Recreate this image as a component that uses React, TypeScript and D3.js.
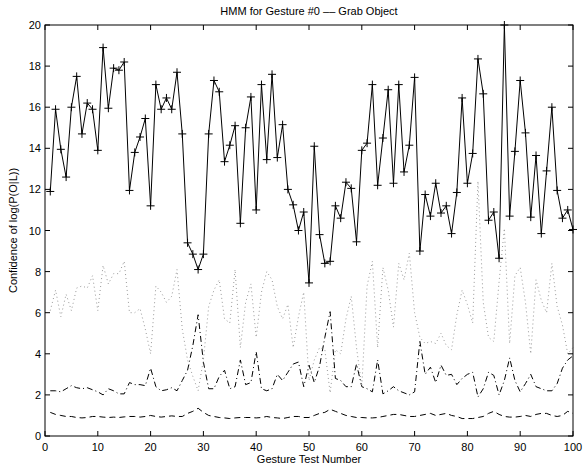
import * as d3 from "d3";

// gesture test numbers 1..100
const testNumbers = d3.range(1, 101);

// solid line with + markers
const confidence = [
  11.9, 15.9, 13.95, 12.6, 16.0, 17.5, 14.7, 16.2, 15.9, 13.9,
  18.9, 15.95, 17.9, 17.8, 18.2, 11.95, 13.8, 14.55, 15.45, 11.2,
  17.1, 15.9, 16.45, 15.9, 17.7, 14.7, 9.4, 8.85, 8.1, 8.85,
  14.7, 17.3, 16.75, 13.35, 14.15, 15.1, 10.35, 15.0, 16.5, 11.0,
  17.1, 13.45, 17.6, 13.55, 15.15, 12.0, 11.25, 10.0, 10.9, 7.45,
  14.1, 9.8, 8.4, 8.5, 11.2, 10.6, 12.35, 12.05, 9.45, 13.9,
  14.25, 17.1, 12.2, 14.5, 16.85, 12.3, 17.1, 12.85, 14.15, 17.45,
  9.0, 11.75, 10.7, 12.3, 10.85, 11.2, 9.85, 11.85, 16.45, 12.3,
  13.75, 18.35, 16.65, 10.5, 10.9, 8.65, 20.0, 10.7, 13.85, 17.3,
  14.75, 10.65, 13.65, 9.85, 12.9, 16.0, 11.95, 10.6, 11.0, 10.05,
];

// dotted grey line
const dotted = [
  6.1, 7.1, 5.8, 6.9, 6.1, 7.2, 7.3, 7.2, 7.8, 6.1,
  8.3, 7.4, 7.9, 7.9, 8.5, 6.0, 6.0, 6.2, 5.2, 4.0,
  7.3, 7.0, 6.5, 6.8, 8.1, 5.2, 3.7, 2.9, 2.2, 3.7,
  6.3, 7.1, 7.6, 5.7, 5.5, 8.1, 4.3, 6.5, 7.4, 4.8,
  7.0, 8.0, 7.6, 6.3, 5.7, 6.4, 4.3, 5.8, 7.0, 2.7,
  3.7, 4.3, 4.2, 2.1, 4.2, 4.0, 5.7, 6.8, 4.3, 2.4,
  7.3, 8.5, 4.3, 8.2, 7.1, 5.3, 8.4, 7.6, 8.9, 6.0,
  4.8, 4.5, 4.6, 4.5, 5.0, 4.4, 4.2, 5.9, 7.1, 6.4,
  5.5, 12.4, 6.5, 4.8, 4.6, 7.5, 10.1, 4.5, 7.8, 8.2,
  6.5, 4.0, 7.6, 6.6, 6.0, 8.4, 6.3, 5.4, 4.0, 4.3,
];

// dash-dot line
const dashDot = [
  2.2, 2.2, 2.15, 2.3, 2.45, 2.35, 2.3, 2.35, 2.25, 2.15,
  2.0, 2.3, 2.2, 2.05, 2.05, 2.6, 2.5, 2.5, 2.45, 3.3,
  2.4, 2.2, 2.25, 2.35, 2.2, 2.7, 3.2, 4.4, 5.9, 3.6,
  2.3, 2.3, 2.9, 3.2, 2.3, 2.4, 3.7, 2.5, 2.6, 4.1,
  2.3, 2.2, 2.3, 3.0, 2.7, 3.1, 3.5, 3.6, 2.4, 3.45,
  2.6, 3.4, 4.8, 6.05, 2.8, 2.7, 2.4, 2.4, 3.5, 2.4,
  2.3, 2.15, 3.7, 2.05, 2.2, 2.4, 2.2, 2.1, 2.0, 2.15,
  4.6, 3.0, 3.35, 2.6, 3.45, 2.95, 3.0, 2.5, 2.8, 3.0,
  3.1, 1.9, 2.3, 3.1, 2.95, 2.0, 2.7, 3.8, 2.7, 2.15,
  2.55, 3.0, 2.4, 2.3, 2.2, 2.2, 2.55, 3.3, 3.7, 3.9,
];

// dashed line
const dashed = [
  1.15, 1.05, 1.0, 0.95, 0.95, 0.9, 0.88, 0.9, 0.95, 0.95,
  0.92, 0.9, 0.92, 0.9, 0.93, 0.95, 0.95, 0.92, 0.95, 1.0,
  0.95, 0.92, 0.95, 0.98, 0.95, 0.95, 1.1, 1.2, 1.35, 1.15,
  1.0, 0.95, 0.9, 0.88, 0.85, 0.88, 0.9, 0.9, 0.9, 0.88,
  0.9, 0.95, 0.9, 0.88, 0.85, 0.9, 0.95, 0.95, 0.9, 0.9,
  1.0, 1.1, 1.15, 1.3, 1.2, 1.1, 1.0, 0.95, 0.9, 0.9,
  0.88, 0.88, 0.9, 0.95, 1.0, 1.05, 1.05, 1.0, 0.95, 0.95,
  1.0, 1.05, 1.1, 1.0, 1.05, 1.1, 1.0, 0.95, 0.85, 0.85,
  0.85, 0.9, 0.95, 1.1, 1.2, 1.05, 0.95, 0.92, 0.92, 0.95,
  1.0, 0.95, 1.05, 1.1, 1.1, 1.0, 0.95, 1.0, 1.2, 1.1,
];

const xTicks = d3.range(0, 101, 10);
const yTicks = d3.range(0, 21, 2);

export default function App() {
  const width = 585;
  const height = 465;

  const marginTop = 25;
  const marginRight = 12;
  const marginBottom = 29;
  const marginLeft = 45;

  const x = d3.scaleLinear().domain([0, 100]).range([marginLeft, width - marginRight]);
  const y = d3.scaleLinear().domain([0, 20]).range([height - marginBottom, marginTop]);

  const line = d3.line<number>()
    .x((d, i) => x(testNumbers[i]))
    .y(d => y(d));

  const font = "Arial, 'Liberation Sans', Helvetica, sans-serif";
  const tickLen = 5;
  const x0 = x(0), x1 = x(100), y0 = y(0), y1 = y(20);

  return (
    <svg
      width={width}
      height={height}
      style={{ position: "absolute", left: 0, top: 0, background: "white" }}
      fontFamily={font}
    >
      <rect x={0} y={0} width={width} height={height} fill="white" />

      {/* series */}
      <path d={line(dashed) ?? ""} fill="none" stroke="black" strokeWidth={1} strokeDasharray="6,4" />
      <path d={line(dashDot) ?? ""} fill="none" stroke="black" strokeWidth={1} strokeDasharray="6,3,1,3" />
      <path d={line(dotted) ?? ""} fill="none" stroke="#999" strokeWidth={1} strokeDasharray="1,3" />
      <path d={line(confidence) ?? ""} fill="none" stroke="black" strokeWidth={1} />
      <g stroke="black" strokeWidth={1}>
        {confidence.map((d, i) => {
          const cx = x(testNumbers[i]);
          const cy = y(d);
          return (
            <g key={i}>
              <line x1={cx - 4} x2={cx + 4} y1={cy} y2={cy} />
              <line x1={cx} x2={cx} y1={cy - 4} y2={cy + 4} />
            </g>
          );
        })}
      </g>

      {/* axes box */}
      <rect x={x0} y={y1} width={x1 - x0} height={y0 - y1} fill="none" stroke="black" strokeWidth={1} />
      <g stroke="black" strokeWidth={1}>
        {xTicks.map(t => (
          <g key={"x" + t}>
            <line x1={x(t)} x2={x(t)} y1={y0} y2={y0 - tickLen} />
            <line x1={x(t)} x2={x(t)} y1={y1} y2={y1 + tickLen} />
          </g>
        ))}
        {yTicks.map(t => (
          <g key={"y" + t}>
            <line x1={x0} x2={x0 + tickLen} y1={y(t)} y2={y(t)} />
            <line x1={x1} x2={x1 - tickLen} y1={y(t)} y2={y(t)} />
          </g>
        ))}
      </g>
      <g fontSize={11} fill="black">
        {xTicks.map(t => (
          <text key={"xl" + t} x={x(t)} y={y0 + 15} textAnchor="middle">{t}</text>
        ))}
        {yTicks.map(t => (
          <text key={"yl" + t} x={x0 - 4} y={y(t) + 4} textAnchor="end">{t}</text>
        ))}
      </g>

      <text x={(x0 + x1) / 2} y={15} textAnchor="middle" fontSize={11}>
        HMM for Gesture #0 –– Grab Object
      </text>
      <text x={(x0 + x1) / 2} y={y0 + 27} textAnchor="middle" fontSize={11}>
        Gesture Test Number
      </text>
      <text
        transform={`translate(17, ${(y0 + y1) / 2}) rotate(-90)`}
        textAnchor="middle"
        fontSize={11}
      >
        Confidence of log(P(O|L))
      </text>
    </svg>
  );
}
